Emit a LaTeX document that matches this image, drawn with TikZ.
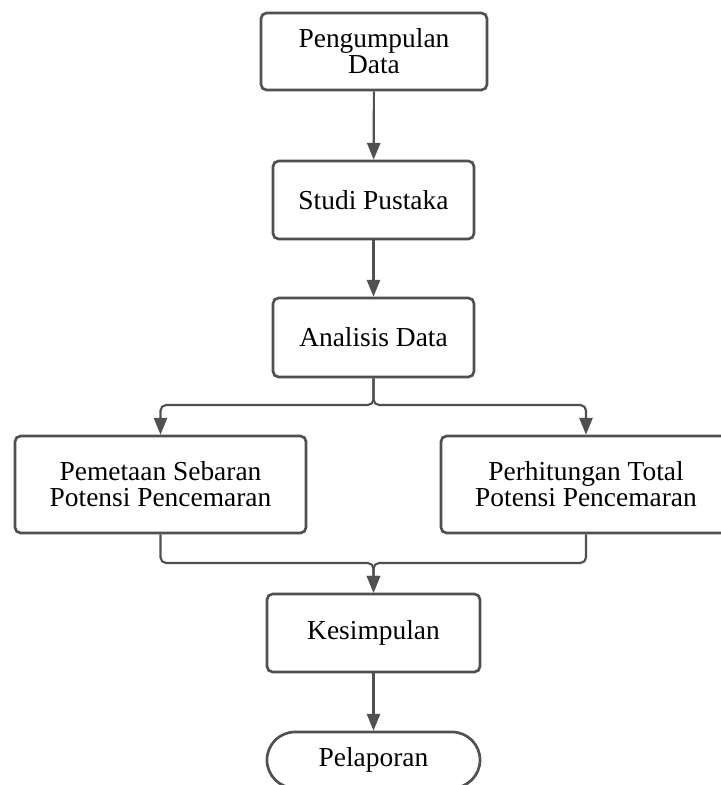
\documentclass[tikz,border=0pt]{standalone}
\usepackage{fontspec}
\setmainfont{Liberation Serif}
\usepackage{tikz}
\usetikzlibrary{arrows.meta}
\definecolor{garis}{RGB}{80,80,80}

\tikzset{
     kotak/.style={draw=garis,line width=1.9pt,rounded corners=4pt,fill=white,align=center,
     	font=\fontsize{19.5}{18.5}\selectfont},
     ujung/.style={kotak,rounded corners=0.7cm},
     panah/.style={draw=garis,line width=1.5pt,rounded corners=4pt,
     	-{Triangle[length=0.42cm,width=0.33cm]}}
}

\begin{document}
\begin{tikzpicture}[x=0.025cm,y=-0.025cm]
     \useasboundingbox (0,0) rectangle (721,785);
     %kotak proses
     \node[kotak,minimum width=5.65cm,minimum height=1.925cm] (peng) at (374,51.5) {Pengumpulan\\Data};
     \node[kotak,minimum width=5.025cm,minimum height=1.95cm] (studi) at (373.5,200) {Studi Pustaka};
     \node[kotak,minimum width=5.025cm,minimum height=1.975cm] (anal) at (373.5,337.5) {Analisis Data};
     \node[kotak,minimum width=7.275cm,minimum height=2.425cm] (pemet) at (160.5,484.5) {Pemetaan Sebaran\\Potensi Pencemaran};
     \node[kotak,minimum width=7.25cm,minimum height=2.425cm] (hitung) at (586,484.5) {Perhitungan Total\\Potensi Pencemaran};
     \node[kotak,minimum width=5.325cm,minimum height=1.95cm] (simpul) at (373.5,633) {Kesimpulan};
     \node[ujung,minimum width=5.325cm,minimum height=1.4cm] (lapor) at (373.5,760) {Pelaporan};
     
     \coordinate (cabang) at (373.5,405);
     \coordinate (gabung) at (373.5,563);
     
     %panah
     \draw[panah] (peng) -- (studi);
     \draw[panah] (studi) -- (anal);
     \draw[panah] (anal.south) -- (cabang) -| (pemet.north);
     \draw[panah] (anal.south) -- (cabang) -| (hitung.north);
     \draw[panah] (pemet.south) |- (gabung) -- (simpul.north);
     \draw[panah] (hitung.south) |- (gabung) -- (simpul.north);
     \draw[panah] (simpul) -- (lapor);
     
\end{tikzpicture}
\end{document}
